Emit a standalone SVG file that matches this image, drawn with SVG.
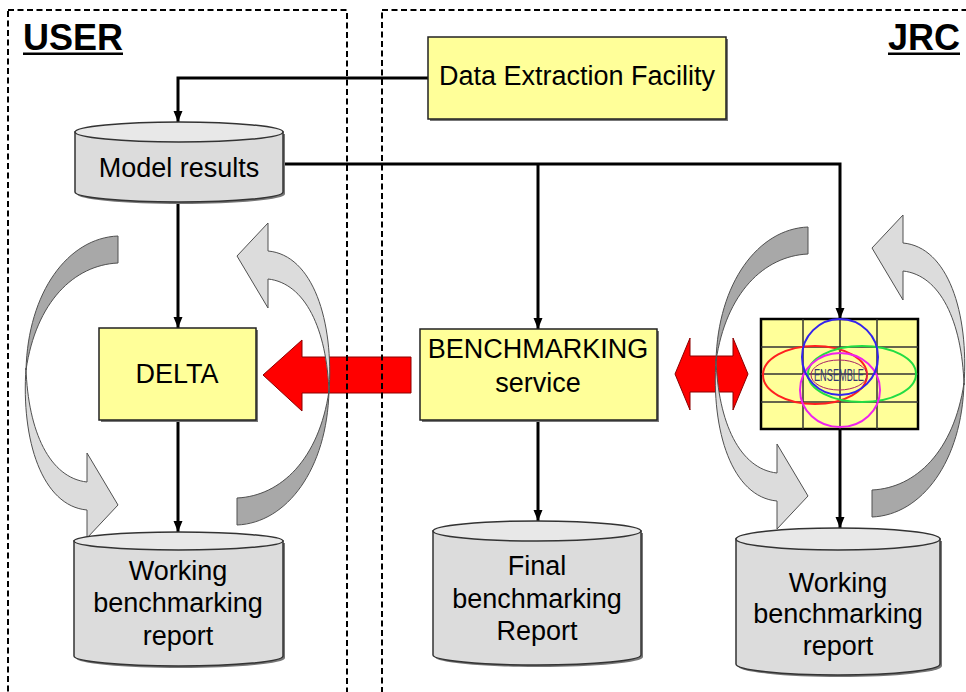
<svg xmlns="http://www.w3.org/2000/svg" xmlns:xlink="http://www.w3.org/1999/xlink" width="966" height="692" viewBox="0 0 966 692">
<style>
  .lbl{font-family:"Liberation Sans",Arial,sans-serif;font-size:27px;fill:#000;text-anchor:middle}
  .ttl{font-family:"Liberation Sans",Arial,sans-serif;font-size:36px;font-weight:bold;fill:#000}
  .box{fill:#ffff99;stroke:#222;stroke-width:1.5}
  .shadow{fill:#777}
  .cylb{fill:#dcdcdc;stroke:#333;stroke-width:1.5}
  .cylt{fill:#e8e8e8;stroke:#333;stroke-width:1.5}
  .dash{fill:none;stroke:#000;stroke-width:2;stroke-dasharray:6 3.5}
  .conn{fill:none;stroke:#000;stroke-width:3}
  .red{fill:#ff0000;stroke:#8b0000;stroke-width:1}
  .gdark{fill:#a8a8a8;stroke:#505050;stroke-width:1}
  .glight{fill:#dcdcdc;stroke:#505050;stroke-width:1}
  .grid{stroke:#333;stroke-width:1.5;fill:none}
</style>
<defs>
  <marker id="ah" markerWidth="11" markerHeight="10" refX="11" refY="5" orient="auto" markerUnits="userSpaceOnUse">
    <path d="M0,0.5 L11,5 L0,9.5 Z" fill="#000"/>
  </marker>
  <g id="carrow">
    <path class="glight" d="M26,368 C28,432 50,478 87,482 L87,453 L118,505 L87,538 L87,510 C42,506 21,440 26,368 Z"/>
    <path class="gdark" d="M118,236 C68,238 28,292 26,370 C36,302 74,265 118,263 Z"/>
  </g>
</defs>
<rect width="966" height="692" fill="#fff"/>

<!-- red arrows -->
<g id="red-arrows">
  <polygon class="red" points="263,375 302,340 302,357 411,357 411,393 302,393 302,411"/>
  <polygon class="red" points="675,374 690,338 690,356 733,356 733,338 748,374 733,410 733,392 690,392 690,410"/>
</g>

<!-- swimlanes -->
<g id="lanes">
  <rect class="dash" x="8" y="10" width="339" height="700"/>
  <rect class="dash" x="382" y="10" width="620" height="700"/>
</g>
<g id="lbl-user">
  <text class="ttl" x="23" y="50">USER</text>
  <rect x="23" y="52.5" width="100" height="2.5" fill="#000"/>
</g>
<g id="lbl-jrc">
  <text class="ttl" x="960" y="50" text-anchor="end">JRC</text>
  <rect x="888" y="52.5" width="72" height="2.5" fill="#000"/>
</g>

<!-- curved gray arrows -->
<g id="cycle-user">
  <use xlink:href="#carrow" href="#carrow"/>
  <use xlink:href="#carrow" href="#carrow" transform="rotate(180,177.5,380.5)"/>
</g>
<g id="cycle-jrc">
  <use xlink:href="#carrow" href="#carrow" transform="translate(690,-9)"/>
  <use xlink:href="#carrow" href="#carrow" transform="translate(635,-8) rotate(180,177.5,380.5)"/>
</g>

<!-- connectors -->
<g id="connectors">
  <path class="conn" d="M428,78 H178 V122" marker-end="url(#ah)"/>
  <path class="conn" d="M283,164 H840 V319" marker-end="url(#ah)"/>
  <path class="conn" d="M538,164 V329" marker-end="url(#ah)"/>
  <path class="conn" d="M178,202 V328" marker-end="url(#ah)"/>
  <path class="conn" d="M178,420 V532" marker-end="url(#ah)"/>
  <path class="conn" d="M538,420 V521" marker-end="url(#ah)"/>
  <path class="conn" d="M840,429 V528" marker-end="url(#ah)"/>
</g>

<!-- nodes -->
<g id="n-def">
  <rect class="shadow" x="430" y="39" width="298" height="82"/>
  <rect class="box" x="428" y="37" width="298" height="82"/>
  <text class="lbl" x="577" y="85">Data Extraction Facility</text>
</g>

<g id="n-model">
  <path class="shadow" d="M77,134 V194 A104,10 0 0 0 285,194 V134 Z"/>
  <path class="cylb" d="M75,132 V192 A104,10 0 0 0 283,192 V132 Z"/>
  <ellipse class="cylt" cx="179" cy="132" rx="104" ry="10"/>
  <text class="lbl" x="179" y="177">Model results</text>
</g>

<g id="n-delta">
  <rect class="shadow" x="101" y="330" width="157" height="92"/>
  <rect class="box" x="99" y="328" width="157" height="92"/>
  <text class="lbl" x="177" y="383">DELTA</text>
</g>

<g id="n-bench">
  <rect class="shadow" x="422" y="331" width="237" height="91"/>
  <rect class="box" x="420" y="329" width="237" height="91"/>
  <text class="lbl" x="538" y="358">BENCHMARKING</text>
  <text class="lbl" x="538" y="392">service</text>
</g>

<g id="n-ensemble">
  <rect x="761" y="319" width="157" height="110" fill="#ffff99" stroke="#000" stroke-width="2.5"/>
  <path class="grid" d="M803,319 V429 M840,319 V429 M877,319 V429 M761,347 H918 M761,374 H918 M761,402 H918"/>
  <ellipse cx="815" cy="375" rx="52" ry="29" fill="none" stroke="#ff2020" stroke-width="2"/>
  <ellipse cx="862" cy="374" rx="54" ry="28" fill="none" stroke="#22dd44" stroke-width="2"/>
  <ellipse cx="840" cy="390" rx="40" ry="37" fill="none" stroke="#ee22ee" stroke-width="2"/>
  <ellipse cx="840" cy="357" rx="38" ry="38" fill="none" stroke="#3322ee" stroke-width="2"/>
  <ellipse cx="839" cy="375" rx="28" ry="15" fill="none" stroke="#aa2266" stroke-width="1"/>
  <text x="839" y="381" font-family="'Liberation Sans',Arial,sans-serif" font-size="17" fill="#33336e" text-anchor="middle" textLength="50" lengthAdjust="spacingAndGlyphs">ENSEMBLE</text>
</g>

<g id="n-wr-user">
  <path class="shadow" d="M76,543 V658 A104.5,10 0 0 0 285,658 V543 Z"/>
  <path class="cylb" d="M74,541 V656 A104.5,10 0 0 0 283,656 V541 Z"/>
  <ellipse class="cylt" cx="178.5" cy="541" rx="104.5" ry="9"/>
  <text class="lbl" x="178" y="580">Working</text>
  <text class="lbl" x="178" y="612">benchmarking</text>
  <text class="lbl" x="178" y="645">report</text>
</g>

<g id="n-final">
  <path class="shadow" d="M435,533 V657 A104,10 0 0 0 643,657 V533 Z"/>
  <path class="cylb" d="M433,531 V655 A104,10 0 0 0 641,655 V531 Z"/>
  <ellipse class="cylt" cx="537" cy="531" rx="104" ry="10"/>
  <text class="lbl" x="537" y="575">Final</text>
  <text class="lbl" x="537" y="608">benchmarking</text>
  <text class="lbl" x="537" y="640">Report</text>
</g>

<g id="n-wr-jrc">
  <path class="shadow" d="M738,541 V666 A102,11 0 0 0 942,666 V541 Z"/>
  <path class="cylb" d="M736,539 V664 A102,11 0 0 0 940,664 V539 Z"/>
  <ellipse class="cylt" cx="838" cy="539" rx="102" ry="11"/>
  <text class="lbl" x="838" y="592">Working</text>
  <text class="lbl" x="838" y="623">benchmarking</text>
  <text class="lbl" x="838" y="655">report</text>
</g>
</svg>
